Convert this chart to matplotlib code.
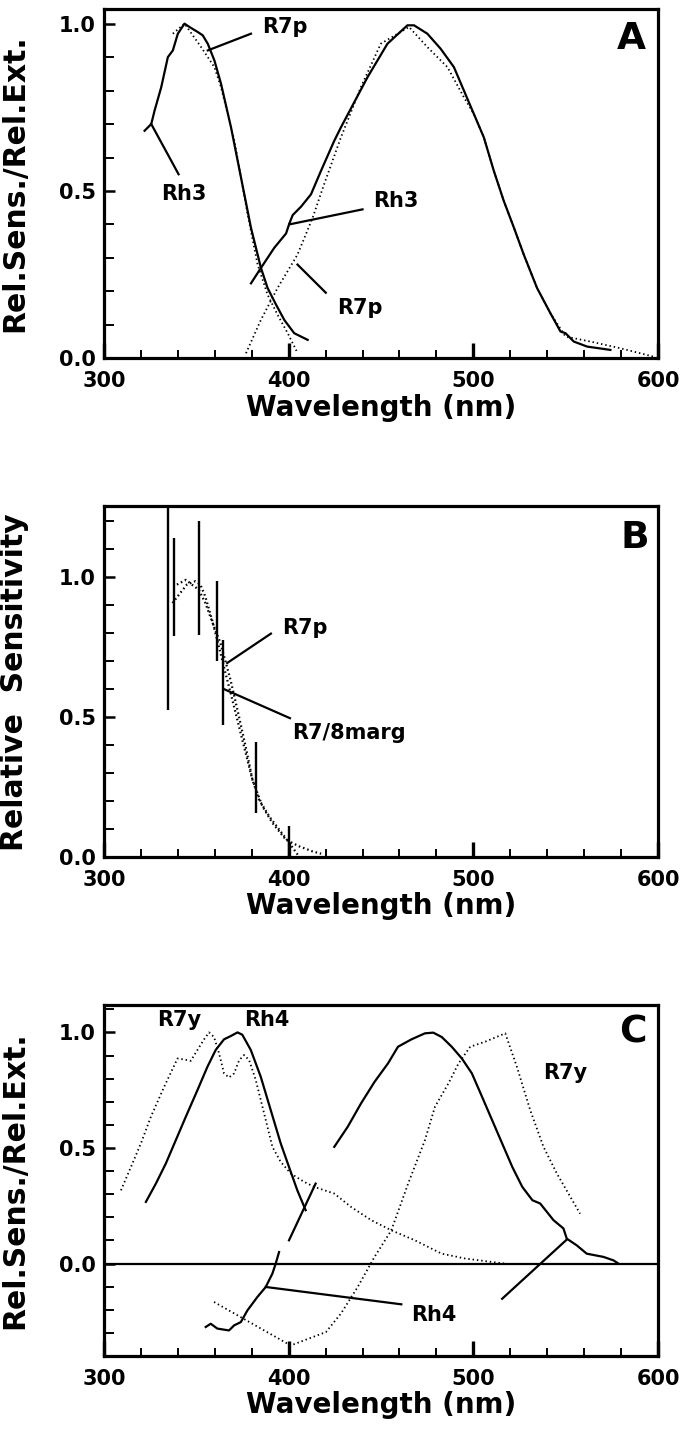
import matplotlib
matplotlib.use("Agg")
import matplotlib.pyplot as plt
from matplotlib.ticker import MultipleLocator, FixedLocator

plt.rcParams['font.family'] = ['DejaVu Sans']
plt.rcParams['font.weight'] = 'bold'

# ---------------- Panel A data ----------------
a_rh3_uv_x = [322, 325.6, 327.4, 331, 334.6, 337.3, 340, 343.6, 346.3, 350.8, 353.5, 356.2, 359.8, 363.4, 368.8, 374.2, 379.6, 385, 388.6, 393.2, 397.7, 403, 410.3]
a_rh3_uv_y = [0.68, 0.70, 0.74, 0.81, 0.90, 0.92, 0.97, 1.00, 0.99, 0.975, 0.965, 0.94, 0.89, 0.82, 0.69, 0.54, 0.39, 0.27, 0.21, 0.16, 0.114, 0.075, 0.055]
a_r7p_uv_x = [337.3, 343.6, 352.6, 359.8, 363.4, 370.6, 377.8, 383.2, 388.6, 394, 399.5, 404.9]
a_r7p_uv_y = [0.97, 1.00, 0.93, 0.87, 0.81, 0.65, 0.43, 0.28, 0.19, 0.13, 0.075, 0.015]
a_rh3_vis_x = [379.6, 385, 392.2, 398.6, 400.4, 402.2, 406.7, 412.1, 417.5, 424.7, 428.3, 442.7, 453.5, 464.3, 467.9, 475.1, 482.3, 489.5, 494.9, 500.3, 505.7, 511.1, 516.5, 522, 527.3, 534.5, 541.8, 547.2, 549.9, 554.4, 561.6, 574.2]
a_rh3_vis_y = [0.224, 0.27, 0.33, 0.373, 0.403, 0.428, 0.453, 0.49, 0.56, 0.65, 0.69, 0.84, 0.94, 0.995, 0.995, 0.97, 0.925, 0.87, 0.80, 0.73, 0.66, 0.56, 0.47, 0.39, 0.31, 0.21, 0.134, 0.08, 0.075, 0.05, 0.035, 0.025]
a_r7p_vis_x = [376.9, 385, 394, 404.8, 413, 419.2, 428.3, 439.1, 449.9, 465.2, 475.1, 486, 494.9, 500.3, 505.7, 511.1, 516.5, 522, 527.3, 534.5, 541.8, 549.9, 563.4, 579.6, 597.6]
a_r7p_vis_y = [0.015, 0.115, 0.21, 0.31, 0.42, 0.52, 0.66, 0.81, 0.94, 0.99, 0.93, 0.87, 0.78, 0.73, 0.66, 0.56, 0.47, 0.39, 0.31, 0.21, 0.134, 0.065, 0.05, 0.03, 0.005]

# ---------------- Panel B data ----------------
b_bar_x = [334.9, 337.8, 351.6, 361.3, 364.7, 382.2, 400]
b_bar_lo = [0.526, 0.79, 0.794, 0.70, 0.473, 0.157, 0.0]
b_bar_hi = [1.30, 1.14, 1.20, 0.987, 0.776, 0.41, 0.11]
b_marg_x = [337.1, 341.3, 344.9, 349.5, 352.2, 354.9, 358.5, 362.2, 365.8, 369.5, 374.9, 380.4, 385.8, 391.3, 398.5, 405.8, 413, 417.6]
b_marg_y = [0.907, 0.943, 0.973, 0.985, 0.973, 0.93, 0.848, 0.752, 0.657, 0.562, 0.419, 0.276, 0.181, 0.121, 0.062, 0.038, 0.02, 0.012]
b_r7p_x = [339.5, 344.4, 347.6, 351.3, 354.9, 359.5, 363.1, 368.5, 373.1, 376.7, 380.4, 384, 389.5, 394.9, 400.4, 405.8]
b_r7p_y = [0.973, 0.99, 0.973, 0.955, 0.907, 0.824, 0.764, 0.633, 0.502, 0.395, 0.276, 0.205, 0.145, 0.098, 0.05, 0.0]

# ---------------- Panel C data ----------------
c_rh4_uv_x = [322.7, 328.1, 333.5, 338.9, 344.3, 350.6, 356, 360.5, 365, 368.6, 372.3, 374.9, 379.5, 384.9, 390.3, 395.7, 400.2, 404.7, 409.2]
c_rh4_uv_y = [0.267, 0.346, 0.433, 0.534, 0.635, 0.75, 0.851, 0.924, 0.97, 0.984, 1.00, 0.99, 0.924, 0.808, 0.664, 0.52, 0.418, 0.317, 0.231]
c_r7y_uv_x = [309.2, 314.6, 320, 325.4, 332.6, 339.8, 343.4, 347, 350.6, 354.2, 356.9, 359.6, 362.3, 365, 367.7, 370.5, 373.2, 375.9, 378.6, 382.2, 386.7, 391.2, 395.7, 401.1, 408.3, 413.8, 424.7, 433.8, 444.7, 455.6, 468.3, 482.9, 495.6, 510.2, 517.4]
c_r7y_uv_y = [0.317, 0.418, 0.52, 0.635, 0.765, 0.887, 0.883, 0.877, 0.924, 0.97, 1.00, 0.98, 0.91, 0.823, 0.805, 0.823, 0.88, 0.902, 0.88, 0.794, 0.65, 0.505, 0.44, 0.39, 0.354, 0.332, 0.303, 0.245, 0.188, 0.144, 0.101, 0.043, 0.022, 0.007, 0.0]
c_rh4_vis_x = [424.7, 432, 439.2, 446.5, 453.8, 459.2, 466.5, 473.8, 478.3, 482.9, 488.3, 493.8, 499.2, 504.7, 510.2, 515.6, 521.1, 526.5, 532, 536.2, 543.4, 548.8, 550.6, 556, 561.4, 570.5, 575.9, 578.6]
c_rh4_vis_y = [0.505, 0.592, 0.693, 0.786, 0.866, 0.938, 0.97, 0.996, 0.999, 0.98, 0.938, 0.887, 0.823, 0.722, 0.62, 0.52, 0.418, 0.332, 0.274, 0.26, 0.188, 0.152, 0.108, 0.079, 0.043, 0.029, 0.014, 0.0]
c_r7y_vis_x = [359.6, 401.1, 420.2, 428.3, 437.4, 446.5, 455.6, 464.7, 473.8, 479.2, 486.5, 492, 498.3, 506.5, 517.3, 523.6, 530.8, 538, 545.2, 551.5, 557.8]
c_r7y_vis_y = [-0.166, -0.354, -0.296, -0.216, -0.101, 0.029, 0.144, 0.346, 0.534, 0.678, 0.779, 0.866, 0.938, 0.96, 0.996, 0.851, 0.664, 0.505, 0.39, 0.303, 0.216]
c_rh4_neg_x = [355.1, 357.8, 361.4, 367.7, 370.5, 374.1, 377.7, 383.1, 387.6, 391.2, 393, 394.8]
c_rh4_neg_y = [-0.274, -0.26, -0.281, -0.289, -0.267, -0.253, -0.202, -0.144, -0.101, -0.043, 0.0, 0.05]

x_ticks = [300, 400, 500, 600]
y_ticks = [0.0, 0.5, 1.0]

SOLID = dict(color='black', lw=1.6, solid_joinstyle='round')
DOT = dict(color='black', lw=1.3, linestyle=(0, (0.8, 1.6)))
DOTB = dict(color='black', lw=1.6, linestyle=(0, (0.7, 1.3)))
LEAD = dict(color='black', lw=1.6)
ANN = dict(fontsize=15, fontweight='bold', va='center')

fig = plt.figure(figsize=(6.84, 14.32), dpi=100)
L, W = 0.152, 0.810
axA = fig.add_axes([L, 0.7498, W, 0.2442])
axB = fig.add_axes([L, 0.4015, W, 0.2448])
axC = fig.add_axes([L, 0.0530, W, 0.2451])


def style(ax, ylim, ylabel):
    ax.set_xlim(300, 600)
    ax.set_ylim(*ylim)
    ax.xaxis.set_major_locator(FixedLocator(x_ticks))
    ax.xaxis.set_minor_locator(MultipleLocator(20))
    ax.yaxis.set_major_locator(FixedLocator(y_ticks))
    ax.yaxis.set_minor_locator(MultipleLocator(0.1))
    ax.set_xticklabels([str(t) for t in x_ticks])
    ax.set_yticklabels(['%.1f' % t for t in y_ticks])
    ax.tick_params(axis='x', which='major', direction='in', length=11, width=2.4,
                   pad=9, labelsize=15, top=False)
    ax.tick_params(axis='x', which='minor', direction='in', length=6, width=1.4, top=False)
    ax.tick_params(axis='y', which='major', direction='in', length=8, width=1.8,
                   pad=6, labelsize=15, right=False)
    ax.tick_params(axis='y', which='minor', direction='in', length=7, width=1.4, right=False)
    for s in ax.spines.values():
        s.set_linewidth(2.3)
    ax.set_xlabel('Wavelength (nm)', fontsize=20, fontweight='bold', labelpad=2)
    ax.set_ylabel(ylabel, fontsize=21.5, fontweight='bold')
    ax.yaxis.set_label_coords(-0.135, 0.5)
    for lab in ax.get_xticklabels() + ax.get_yticklabels():
        lab.set_fontweight('bold')


# ---------------- Panel A ----------------
style(axA, (0, 1.045), 'Rel.Sens./Rel.Ext.')
axA.plot(a_rh3_uv_x, a_rh3_uv_y, **SOLID)
axA.plot(a_r7p_uv_x, a_r7p_uv_y, **DOT)
axA.plot(a_rh3_vis_x, a_rh3_vis_y, **SOLID)
axA.plot(a_r7p_vis_x, a_r7p_vis_y, **DOT)
axA.plot([356.2, 379.6], [0.92, 0.97], **LEAD)
axA.text(385.5, 0.99, 'R7p', **ANN)
axA.plot([325.6, 340.4], [0.70, 0.55], **LEAD)
axA.text(331, 0.49, 'Rh3', **ANN)
axA.plot([400.3, 440], [0.40, 0.445], **LEAD)
axA.text(446, 0.47, 'Rh3', **ANN)
axA.plot([404.8, 420.1], [0.28, 0.196], **LEAD)
axA.text(426.5, 0.15, 'R7p', **ANN)
axA.text(593.5, 0.955, 'A', fontsize=27, fontweight='bold', ha='right', va='center')

# ---------------- Panel B ----------------
style(axB, (0, 1.252), 'Relative  Sensitivity')
axB.plot(b_marg_x, b_marg_y, **DOTB)
axB.plot(b_r7p_x, b_r7p_y, **DOTB)
axB.vlines(b_bar_x, b_bar_lo, b_bar_hi, colors='black', lw=1.7)
axB.plot([366.7, 390.4], [0.693, 0.798], **LEAD)
axB.text(396.7, 0.818, 'R7p', **ANN)
axB.plot([364.9, 400.7], [0.60, 0.496], **LEAD)
axB.text(402, 0.443, 'R7/8marg', **ANN)
axB.text(595, 1.14, 'B', fontsize=27, fontweight='bold', ha='right', va='center')

# ---------------- Panel C ----------------
style(axC, (-0.40, 1.118), 'Rel.Sens./Rel.Ext.')
axC.axhline(0.0, color='black', lw=1.6)
axC.plot(c_rh4_uv_x, c_rh4_uv_y, **SOLID)
axC.plot(c_r7y_uv_x, c_r7y_uv_y, **DOT)
axC.plot(c_rh4_vis_x, c_rh4_vis_y, **SOLID)
axC.plot(c_r7y_vis_x, c_r7y_vis_y, **DOT)
axC.plot(c_rh4_neg_x, c_rh4_neg_y, **SOLID)
axC.plot([400.2, 414.6], [0.101, 0.346], **LEAD)
axC.plot([515.6, 550.6], [-0.152, 0.104], **LEAD)
axC.plot([387.6, 461], [-0.101, -0.176], **LEAD)
axC.text(466.5, -0.224, 'Rh4', **ANN)
axC.text(329, 1.053, 'R7y', **ANN)
axC.text(376, 1.053, 'Rh4', **ANN)
axC.text(538, 0.823, 'R7y', **ANN)
axC.text(594, 1.0, 'C', fontsize=27, fontweight='bold', ha='right', va='center')

fig.savefig('out.png', dpi=100)
